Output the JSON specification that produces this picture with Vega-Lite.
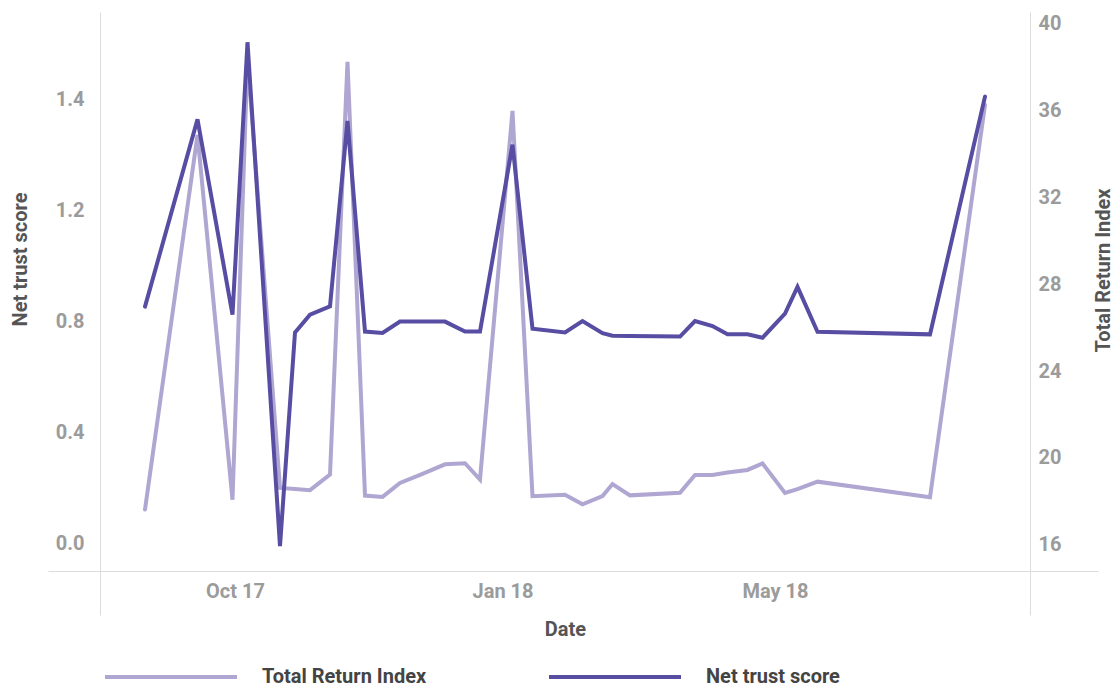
{
  "$schema": "https://vega.github.io/schema/vega-lite/v6.json",
  "width": 930,
  "height": 559,
  "autosize": {"type": "none"},
  "padding": {"left": 100, "top": 12, "right": 85, "bottom": 117},
  "background": "white",
  "config": {
    "view": {"stroke": null},
    "font": "Roboto",
    "axis": {
      "domainColor": "#dcdcdc",
      "domainWidth": 1,
      "tickColor": "#dcdcdc",
      "tickWidth": 1,
      "labelFont": "Roboto",
      "labelFontSize": 20,
      "labelFontWeight": "bold",
      "labelColor": "#9b9b9b",
      "titleFont": "Roboto",
      "titleFontSize": 20,
      "titleFontWeight": "bold",
      "titleColor": "#555555",
      "grid": false,
      "labelFlush": false,
      "labelOverlap": false,
      "labelBound": false
    }
  },
  "data": {
    "values": [
      {"date": "2017-09-04", "nts": 0.853, "tri": 17.63},
      {"date": "2017-09-25", "nts": 1.528, "tri": 34.86},
      {"date": "2017-10-09", "nts": 0.824, "tri": 18.08},
      {"date": "2017-10-15", "nts": 1.806, "tri": 38.40},
      {"date": "2017-10-28", "nts": -0.010, "tri": 18.62},
      {"date": "2017-11-03", "nts": 0.760, "tri": 18.57},
      {"date": "2017-11-09", "nts": 0.824, "tri": 18.52},
      {"date": "2017-11-17", "nts": 0.854, "tri": 19.24},
      {"date": "2017-11-24", "nts": 1.522, "tri": 38.23},
      {"date": "2017-12-01", "nts": 0.763, "tri": 18.27},
      {"date": "2017-12-08", "nts": 0.758, "tri": 18.21},
      {"date": "2017-12-15", "nts": 0.799, "tri": 18.85},
      {"date": "2017-12-24", "nts": 0.799, "tri": 19.27},
      {"date": "2018-01-02", "nts": 0.799, "tri": 19.71},
      {"date": "2018-01-10", "nts": 0.763, "tri": 19.76},
      {"date": "2018-01-16", "nts": 0.763, "tri": 19.01},
      {"date": "2018-01-29", "nts": 1.437, "tri": 35.97},
      {"date": "2018-02-06", "nts": 0.773, "tri": 18.24},
      {"date": "2018-02-19", "nts": 0.760, "tri": 18.31},
      {"date": "2018-02-26", "nts": 0.801, "tri": 17.87},
      {"date": "2018-03-06", "nts": 0.757, "tri": 18.25},
      {"date": "2018-03-10", "nts": 0.748, "tri": 18.80},
      {"date": "2018-03-17", "nts": 0.747, "tri": 18.28},
      {"date": "2018-04-06", "nts": 0.745, "tri": 18.40},
      {"date": "2018-04-12", "nts": 0.801, "tri": 19.22},
      {"date": "2018-04-19", "nts": 0.783, "tri": 19.22},
      {"date": "2018-04-25", "nts": 0.753, "tri": 19.33},
      {"date": "2018-05-03", "nts": 0.753, "tri": 19.45},
      {"date": "2018-05-09", "nts": 0.741, "tri": 19.75},
      {"date": "2018-05-18", "nts": 0.828, "tri": 18.39},
      {"date": "2018-05-23", "nts": 0.924, "tri": 18.57},
      {"date": "2018-05-31", "nts": 0.762, "tri": 18.91},
      {"date": "2018-07-15", "nts": 0.753, "tri": 18.19},
      {"date": "2018-08-06", "nts": 1.610, "tri": 36.24}
    ]
  },
  "encoding": {
    "x": {
      "field": "date",
      "type": "temporal",
      "scale": {
        "type": "utc",
        "domain": [
          {"year": 2017, "month": 8, "date": 17, "utc": true},
          {"year": 2018, "month": 8, "date": 24, "utc": true}
        ]
      },
      "axis": {
        "values": [
          {"year": 2017, "month": 8, "date": 17, "utc": true},
          {"year": 2017, "month": 10, "date": 10, "utc": true},
          {"year": 2018, "month": 1, "date": 25, "utc": true},
          {"year": 2018, "month": 5, "date": 14, "utc": true},
          {"year": 2018, "month": 8, "date": 24, "utc": true}
        ],
        "labelExpr": "(datum.value < 1504224000000 || datum.value > 1530403200000) ? '' : utcFormat(datum.value, '%b %y')",
        "tickSize": 44,
        "tickOpacity": {"condition": {"test": "datum.value < 1504224000000 || datum.value > 1530403200000", "value": 1}, "value": 0},
        "labelPadding": -34,
        "title": "Date",
        "titlePadding": 4
      }
    }
  },
  "layer": [
    {
      "mark": {"type": "line", "strokeWidth": 4, "strokeCap": "round"},
      "encoding": {
        "y": {
          "field": "tri",
          "type": "quantitative",
          "scale": {"domain": [14.8, 40.52], "nice": false, "zero": false},
          "axis": {
            "orient": "right",
            "values": [14.8, 16, 20, 24, 28, 32, 36, 40],
            "labelExpr": "datum.value < 15 ? '' : format(datum.value, 'd')",
            "tickSize": 68,
            "tickOpacity": {"condition": {"test": "datum.value < 15", "value": 1}, "value": 0},
            "labelPadding": -60,
            "title": "Total Return Index",
            "titleAngle": 270,
            "titleBaseline": "top",
            "titlePadding": -5,
            "titleY": 258
          }
        },
        "color": {
          "datum": "Total Return Index",
          "scale": {"domain": ["Total Return Index", "Net trust score"], "range": ["#b0a6d2", "#574da3"]},
          "legend": {
            "orient": "none",
            "legendX": 3,
            "legendY": 597,
            "direction": "horizontal",
            "title": null,
            "padding": 0,
            "symbolType": "stroke",
            "symbolSize": 17424,
            "symbolStrokeWidth": 4,
            "labelOffset": 23,
            "labelFont": "Roboto",
            "labelFontSize": 20,
            "labelFontWeight": "bold",
            "labelColor": "#444444",
            "labelLimit": 400,
            "columnPadding": 114
          }
        }
      }
    },
    {
      "mark": {"type": "line", "strokeWidth": 4, "strokeCap": "round"},
      "encoding": {
        "y": {
          "field": "nts",
          "type": "quantitative",
          "scale": {"domain": [-0.1, 1.915], "nice": false, "zero": false},
          "axis": {
            "orient": "left",
            "values": [-0.1, 0, 0.4, 0.8, 1.2, 1.6],
            "labelExpr": "datum.value < -0.05 ? '' : (datum.value > 1.5 ? '1.4' : format(datum.value, '.1f'))",
            "tickSize": 52,
            "tickOpacity": {"condition": {"test": "datum.value < -0.05", "value": 1}, "value": 0},
            "labelPadding": -36,
            "title": "Net trust score",
            "titlePadding": 17,
            "titleY": 247
          }
        },
        "color": {"datum": "Net trust score"}
      }
    }
  ],
  "resolve": {"scale": {"y": "independent"}}
}
